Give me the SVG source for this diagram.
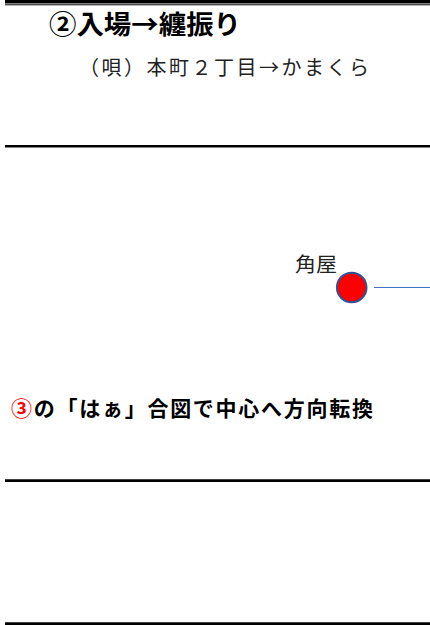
<svg xmlns="http://www.w3.org/2000/svg" width="430" height="625" viewBox="0 0 430 625">
<style>
.jp{font-family:"Noto Sans CJK JP","Noto Sans",sans-serif;}
.rule{stroke:#000;}
</style>
<rect width="430" height="625" fill="#fff"/>
<g id="rules">
<line class="rule" x1="5" y1="1.7" x2="430" y2="1.7" stroke-width="3.5"/>
<line class="rule" x1="5" y1="4.8" x2="430" y2="4.8" stroke-width="1"/>
<line class="rule" x1="5" y1="146.2" x2="430" y2="146.2" stroke-width="2.5"/>
<line class="rule" x1="5" y1="480.6" x2="430" y2="480.6" stroke-width="2.7"/>
<line class="rule" x1="5" y1="623.7" x2="430" y2="623.7" stroke-width="2.7"/>
</g>
<g id="title">
<text class="jp" x="49" y="34" font-size="26" font-weight="bold" textLength="192" lengthAdjust="spacingAndGlyphs">②入場→纏振り</text>
</g>
<g id="subtitle">
<text class="jp" x="79" y="74.5" font-size="20" fill="#222" textLength="290" lengthAdjust="spacing">（唄）本町２丁目→かまくら</text>
</g>
<g id="connectors">
<line x1="374" y1="287.5" x2="430" y2="287.5" stroke="#4472C4" stroke-width="1.2"/>
</g>
<g id="kadoya">
<text class="jp" x="295" y="272" font-size="20" fill="#222" textLength="42" lengthAdjust="spacingAndGlyphs">角屋</text>
<circle cx="351.7" cy="287.5" r="14.8" fill="#FF0000" stroke="#2F5597" stroke-width="2"/>
</g>
<g id="note">
<text class="jp" x="11" y="415.5" font-size="21" font-weight="bold" textLength="362" lengthAdjust="spacing"><tspan fill="#FF0000">③</tspan>の「はぁ」合図で中心へ方向転換</text>
</g>
</svg>
